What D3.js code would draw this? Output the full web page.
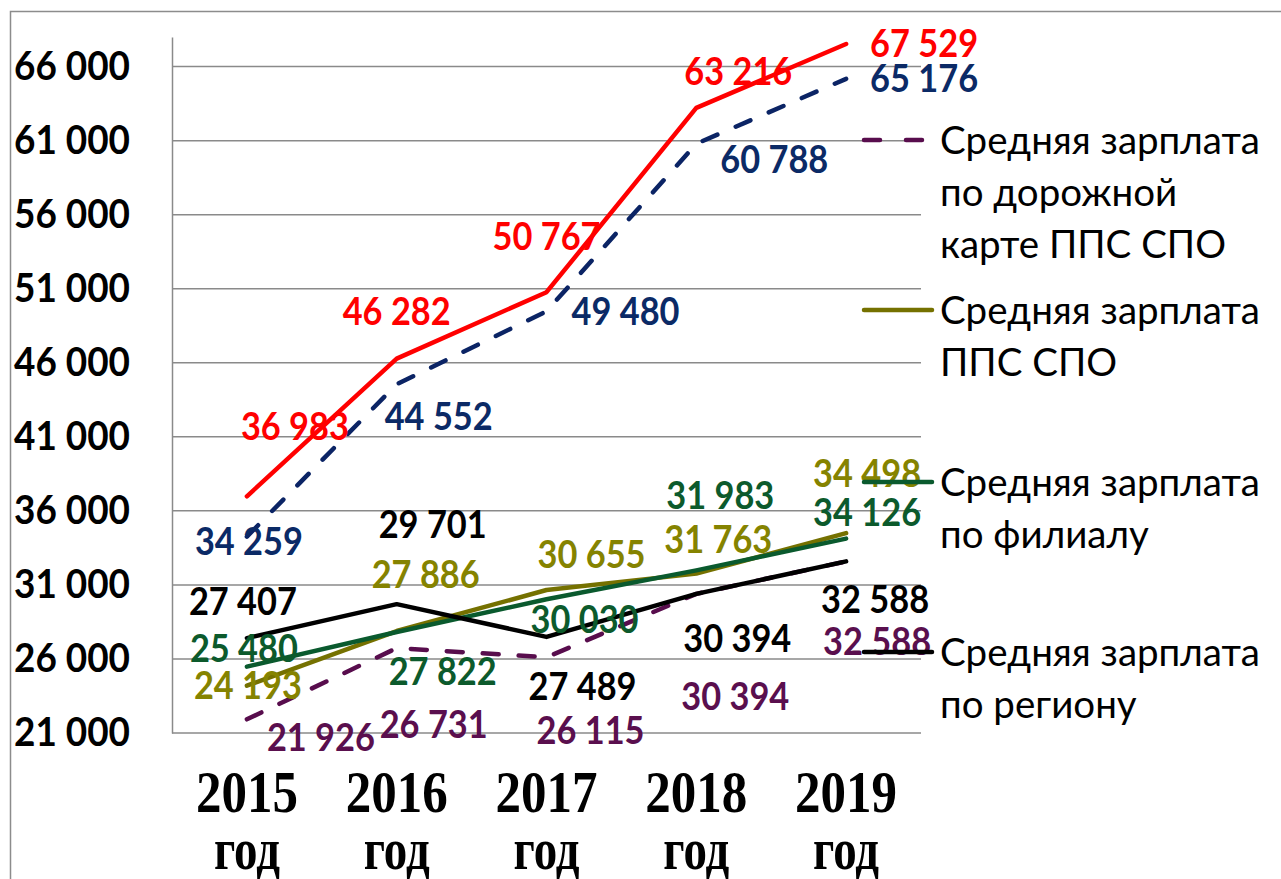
<!DOCTYPE html>
<html>
<head>
<meta charset="utf-8">
<title>Средняя зарплата</title>
<script src="https://cdn.jsdelivr.net/npm/d3@7"></script>
<style>
  body { margin: 0; background: #fff; }
</style>
</head>
<body>
<script>
    // годы
    var years = ["2015", "2016", "2017", "2018", "2019"];
    // ряды
    var redValues = [36983, 46282, 50767, 63216, 67529];
    var navyValues = [34259, 44552, 49480, 60788, 65176];
    var roadMapValues = [21926, 26731, 26115, 30394, 32588];
    var ppsSpoValues = [24193, 27886, 30655, 31763, 34498];
    var branchValues = [25480, 27822, 30030, 31983, 34126];
    var regionValues = [27407, 29701, 27489, 30394, 32588];
    var yTicks = [21000, 26000, 31000, 36000, 41000, 46000, 51000, 56000, 61000, 66000];
    var legendLines = [
        ["Средняя зарплата", "по дорожной", "карте ППС СПО"],
        ["Средняя зарплата", "ППС СПО"],
        ["Средняя зарплата", "по филиалу"],
        ["Средняя зарплата", "по региону"]
    ];

    var w = 1281, h = 879;
    var plotL = 172, plotR = 921, plotT = 37, plotB = 733;

    // подписи данных: смещения от точки (dx, dy)
    var series = [
        { values: redValues, color: "#ff0000", text: "#ff0000", dash: null,
          off: [[48, -70], [0, -47], [0, -55], [42, -36], [78, 0]] },
        { values: navyValues, color: "#0b2465", text: "#0b2a66", dash: "16,20",
          off: [[2, 5], [42, 32], [79, 0], [78, 16], [78, 0]] },
        { values: roadMapValues, color: "#580d4d", text: "#5a0f4e", dash: "16,20",
          off: [[74, 18], [37, 77], [44, 73], [39, 103], [31, 80]] },
        { values: ppsSpoValues, color: "#757100", text: "#858300", dash: null,
          off: [[1, 0], [29, -56], [45, -35], [22, -34], [21, -59]] },
        { values: branchValues, color: "#0a5a2e", text: "#0c5a2c", dash: null,
          off: [[-3, -18], [46, 40], [38, 20], [24, -75], [21, -26]] },
        { values: regionValues, color: "#000000", text: "#000000", dash: null,
          off: [[-4, -36], [36, -79], [36, 50], [41, 45], [29, 38]] }
    ];
    var legendSeries = [2, 3, 4, 5];
    var legendY = [140, 310, 482, 652];

    var svg = d3.select("body").append("svg")
        .attr("width", w)
        .attr("height", h);

    // рамка
    svg.append("path")
        .attr("d", "M10.5," + h + "V11.5H" + w)
        .attr("fill", "none")
        .attr("stroke", "#8c8c8c")
        .attr("stroke-width", 1.5);

    var x = d3.scaleBand().domain(years).range([plotL, plotR]);
    var y = d3.scaleLinear().domain([21000, 68000]).range([plotB, plotT]);
    var fmt = d3.formatLocale({ decimal: ",", thousands: " ", grouping: [3], currency: ["", ""] }).format(",d");

    // сетка
    svg.append("g")
        .selectAll("line")
        .data(yTicks)
        .enter()
        .append("line")
        .attr("x1", plotL).attr("x2", plotR)
        .attr("y1", function(d) { return y(d); })
        .attr("y2", function(d) { return y(d); })
        .attr("stroke", "#8a8a8a")
        .attr("stroke-width", 1.5);

    var yAxis = d3.axisLeft(y).tickValues(yTicks).tickSize(0).tickPadding(42).tickFormat(fmt);
    var gy = svg.append("g")
        .attr("transform", "translate(" + plotL + ",0)")
        .call(yAxis);
    gy.select(".domain").attr("stroke", "#8a8a8a").attr("stroke-width", 1.5);
    gy.selectAll("text")
        .attr("font-family", "Lato, 'Open Sans', sans-serif")
        .attr("font-weight", "bold")
        .attr("font-size", "40px")
        .attr("textLength", 116)
        .attr("lengthAdjust", "spacingAndGlyphs")
        .attr("fill", "#000");

    var xAxis = d3.axisBottom(x).tickSize(0).tickPadding(0);
    var gx = svg.append("g")
        .attr("transform", "translate(0," + plotB + ")")
        .call(xAxis);
    gx.select(".domain").remove();
    gx.selectAll(".tick text").each(function(d) {
        var t = d3.select(this).text(null).attr("dy", null).attr("y", 0);
        t.append("tspan").attr("x", 0).attr("y", 79).text(d)
            .attr("textLength", 102).attr("lengthAdjust", "spacingAndGlyphs");
        t.append("tspan").attr("x", 0).attr("y", 136).text("год")
            .attr("textLength", 66).attr("lengthAdjust", "spacingAndGlyphs");
    });
    gx.selectAll("text")
        .attr("font-family", "'Liberation Serif', 'Times New Roman', serif")
        .attr("font-weight", "bold")
        .attr("font-size", "60px")
        .attr("fill", "#000");

    var line = d3.line()
        .x(function(d, i) { return x(years[i]) + x.bandwidth() / 2; })
        .y(function(d) { return y(d); });

    series.forEach(function(s) {
        svg.append("path")
            .datum(s.values)
            .attr("d", line)
            .attr("fill", "none")
            .attr("stroke", s.color)
            .attr("stroke-width", 4.5)
            .attr("stroke-linejoin", "round")
            .attr("stroke-linecap", "round")
            .attr("stroke-dasharray", s.dash);
    });

    series.forEach(function(s) {
        svg.append("g").selectAll("text")
            .data(s.values)
            .enter()
            .append("text")
            .attr("x", function(d, i) { return x(years[i]) + x.bandwidth() / 2 + s.off[i][0]; })
            .attr("y", function(d, i) { return y(d) + s.off[i][1]; })
            .attr("dy", "0.35em")
            .attr("text-anchor", "middle")
            .attr("font-family", "Lato, 'Open Sans', sans-serif")
            .attr("font-weight", "bold")
            .attr("font-size", "38px")
            .attr("textLength", 108)
            .attr("lengthAdjust", "spacingAndGlyphs")
            .attr("fill", s.text)
            .text(function(d) { return fmt(d); });
    });

    // легенда
    var leg = svg.append("g");
    legendSeries.forEach(function(si, k) {
        var s = series[si];
        var ly = legendY[k];
        leg.append("line")
            .attr("x1", 864).attr("x2", 932)
            .attr("y1", ly).attr("y2", ly)
            .attr("stroke", s.color)
            .attr("stroke-width", 4.5)
            .attr("stroke-linecap", "round")
            .attr("stroke-dasharray", s.dash ? "16,26" : null);
        var t = leg.append("text")
            .attr("font-family", "Lato, 'Open Sans', sans-serif")
            .attr("font-size", "38.5px")
            .attr("fill", "#000");
        legendLines[k].forEach(function(str, j) {
            t.append("tspan").attr("x", 940).attr("y", ly + 14 + j * 52).text(str);
        });
    });
</script>
</body>
</html>
